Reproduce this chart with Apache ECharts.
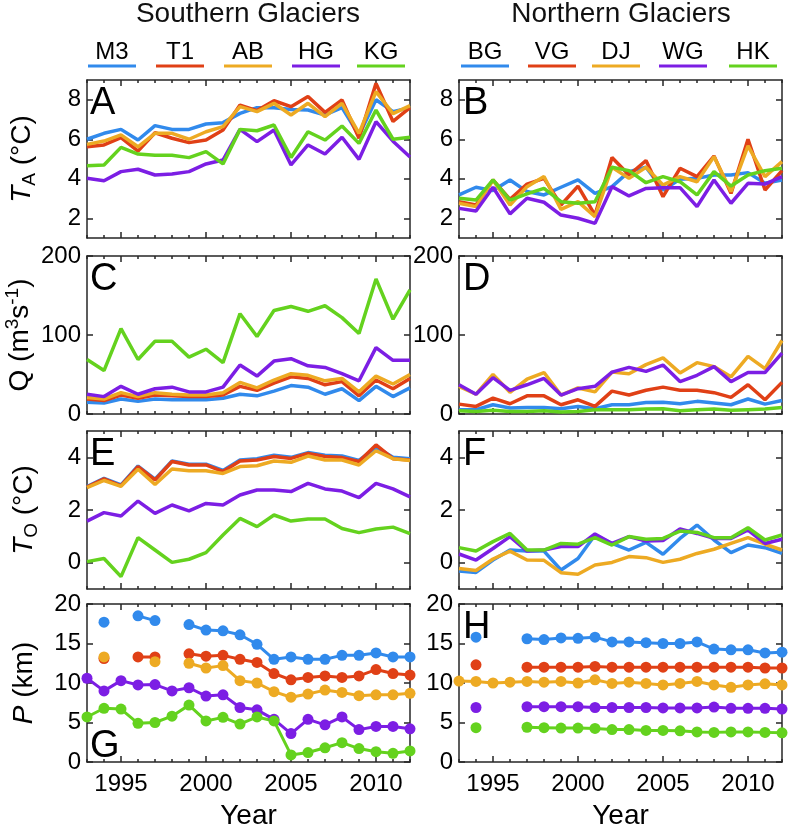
<!DOCTYPE html>
<html>
<head>
<meta charset="utf-8">
<script src="https://cdn.jsdelivr.net/npm/echarts@6/dist/echarts.min.js"></script>
<style>
html, body { margin: 0; padding: 0; background: #fff; }
#chart { width: 789px; height: 831px; }
</style>
</head>
<body>
<div id="chart"></div>
<script>
// years and tick labels
var years = [1993,1994,1995,1996,1997,1998,1999,2000,2001,2002,2003,2004,2005,2006,2007,2008,2009,2010,2011,2012];
var majorYears = [1995, 2000, 2005, 2010];
var southNames = ['M3', 'T1', 'AB', 'HG', 'KG'];
var northNames = ['BG', 'VG', 'DJ', 'WG', 'HK'];

// A: air temperature, southern glaciers
var taM3 = [6.0,6.3,6.5,5.96,6.69,6.5,6.5,6.77,6.84,7.31,7.6,7.6,7.51,7.48,7.23,7.6,6.2,8.0,7.4,7.6];
var taT1 = [5.62,5.71,6.08,5.4,6.33,6.05,5.83,5.96,6.47,7.73,7.45,7.95,7.65,8.16,7.36,7.99,6.05,8.83,6.9,7.6];
var taAB = [5.74,5.91,6.22,5.62,6.3,6.3,6.0,6.38,6.64,7.65,7.4,7.82,7.23,7.82,7.14,7.82,6.3,8.41,7.3,7.7];
var taHG = [4.02,3.9,4.36,4.48,4.19,4.24,4.36,4.75,4.95,6.5,5.88,6.47,4.7,5.71,5.25,6.1,4.98,6.89,5.9,5.1];
var taKG = [4.66,4.7,5.59,5.25,5.19,5.19,5.07,5.37,4.75,6.5,6.43,6.72,5.08,6.38,5.96,6.67,5.79,7.48,6.0,6.1];
// B: air temperature, northern glaciers
var taBG = [3.18,3.57,3.4,3.94,3.35,3.18,3.57,3.94,3.26,3.6,4.36,4.58,3.43,3.97,4.02,4.19,4.19,4.31,3.77,3.94];
var taVG = [2.84,2.67,3.94,2.96,3.73,4.02,2.67,3.63,2.16,5.08,4.19,4.92,3.09,4.53,4.11,5.15,3.26,6.0,3.43,4.41];
var taDJ = [2.76,2.59,3.94,2.67,3.6,4.11,2.45,2.84,2.08,4.58,4.02,4.58,3.68,4.11,3.85,5.12,3.35,5.66,4.11,4.87];
var taWG = [2.5,2.37,3.57,2.22,3.01,2.81,2.16,2.0,1.74,3.6,3.13,3.51,3.55,3.55,2.59,3.94,2.76,3.77,3.73,4.11];
var taHK = [3.01,2.92,3.94,2.92,3.23,3.51,2.84,2.76,2.84,4.58,4.41,3.8,4.11,3.85,3.18,4.36,3.63,4.19,4.41,4.53];
// C: discharge, southern
var qM3 = [15,14,19,16,19,18,18,18,20,25,23,29,36,34,25,32,17,35,22,33];
var qT1 = [19,17,24,20,24,23,22,22,24,35,30,39,47,45,37,41,23,43,32,45];
var qAB = [21,19,27,22,27,25,24,24,27,40,33,43,51,49,42,45,28,48,38,50];
var qHG = [25,22,35,25,32,34,28,28,34,62,48,67,70,61,59,51,42,84,68,68];
var qKG = [69,55,108,69,92,92,72,82,65,127,98,131,136,130,137,122,102,171,120,157];
// D: discharge, northern
var qBG = [5.4,5.4,11.7,7.5,8.3,8.3,6.7,9.6,6.7,11.7,11.7,14.6,15,13,16,14,11.7,19,12.5,17];
var qVG = [12.5,9.6,20,13,23,23,11.7,18,9.6,29,24,30,34,30,30,27,21,37,18,40];
var qDJ = [35,25,50,27.5,44,52.5,24,33,28,53,51,62.5,71,52,65,60,47,73,57.5,93];
var qWG = [37,25,46,30,37,45,24,32,35,53,59,54,62,41,49,60,41,52.5,52.5,77];
var qHK = [4,3.3,4.6,3.3,3.3,4,2.5,3.3,5.4,5.4,5.4,6.2,6.7,4,5.4,6.2,4.6,5.4,6.2,8.3];
// E: ocean temperature, southern
var toM3 = [2.89,3.2,2.95,3.67,3.17,3.86,3.74,3.74,3.5,3.9,3.95,4.08,4.0,4.18,4.08,4.05,3.88,4.38,4.0,3.95];
var toT1 = [2.87,3.18,2.92,3.65,3.14,3.84,3.71,3.71,3.46,3.86,3.9,4.03,3.96,4.15,4.03,3.99,3.84,4.47,3.95,3.9];
var toAB = [2.85,3.12,2.9,3.55,2.97,3.56,3.49,3.49,3.39,3.65,3.68,3.86,3.81,4.05,3.9,3.9,3.71,4.25,3.95,3.88];
var toHG = [1.58,1.9,1.77,2.34,1.87,2.19,1.97,2.25,2.19,2.57,2.76,2.76,2.7,3.01,2.8,2.72,2.47,3.01,2.8,2.5];
var toKG = [0.04,0.16,-0.53,0.95,0.48,0.01,0.13,0.38,1.05,1.68,1.37,1.81,1.58,1.66,1.66,1.3,1.14,1.28,1.35,1.1];
// F: ocean temperature, northern (no VG)
var toBG = [-0.32,-0.37,0.1,0.48,0.44,0.44,-0.28,0.16,1.05,0.73,0.48,0.77,0.32,0.92,1.43,0.86,0.38,0.67,0.57,0.35];
var toDJ = [-0.22,-0.3,0.14,0.44,0.1,0.09,-0.38,-0.44,-0.09,0.01,0.23,0.19,0.01,0.13,0.35,0.51,0.73,0.95,0.7,0.48];
var toWG = [0.33,0.1,0.54,0.99,0.44,0.48,0.61,0.61,1.09,0.73,0.99,0.82,0.84,1.28,1.11,0.92,0.92,1.24,0.73,0.89];
var toHK = [0.57,0.44,0.8,1.11,0.48,0.48,0.73,0.7,0.95,0.67,0.99,0.89,0.92,1.2,1.15,0.95,0.95,1.33,0.86,1.05];
// G: terminus position, southern
var pM3 = [null,17.7,null,18.5,17.9,null,17.4,16.7,16.6,16.1,14.9,13.0,13.3,13.0,13.0,13.5,13.5,13.8,13.3,13.3];
var pT1 = [null,13.1,null,13.3,13.3,null,13.7,13.4,13.5,13.0,12.6,11.2,10.4,10.7,10.9,10.7,10.9,11.7,11.2,11.0];
var pAB = [null,13.3,null,null,12.7,null,12.5,11.9,12.2,10.3,10.0,8.9,8.2,8.6,9.1,8.8,8.4,8.5,8.5,8.7];
var pHG = [10.6,9.0,10.3,9.75,9.8,9.0,9.4,8.35,8.5,6.9,6.6,5.4,3.6,5.4,4.7,5.7,4.1,4.5,4.5,4.2];
var pKG = [5.7,6.8,6.7,4.9,5.0,5.8,7.2,5.2,5.65,4.8,5.7,5.2,0.9,1.2,1.8,2.45,1.7,1.3,1.1,1.4];
// H: terminus position, northern
var pBG = [null,15.8,null,null,15.6,15.5,15.7,15.65,15.8,15.2,15.2,15.1,15.0,15.0,15.2,14.3,14.2,14.2,13.8,13.9];
var pVG = [null,12.3,null,null,12.0,12.0,12.0,12.0,12.1,12.0,12.0,12.0,12.0,12.0,12.0,12.0,12.0,12.0,11.9,11.9];
var pDJ = [10.25,10.2,10.0,10.1,10.2,10.1,10.2,10.0,10.4,9.95,10.1,9.95,9.75,9.95,10.2,9.75,9.45,9.75,9.9,9.75];
var pWG = [null,6.9,null,null,7.0,7.0,7.0,7.0,6.9,6.9,6.9,6.9,6.85,6.85,6.85,6.95,6.8,6.8,6.8,6.7];
var pHK = [null,4.35,null,null,4.4,4.35,4.3,4.3,4.25,4.1,4.1,4.0,4.0,3.95,3.8,3.75,3.8,3.8,3.75,3.7];

var colors = ['#318AEC', '#E04016', '#EDAA23', '#7C1EE4', '#64D21E'];
var font = 'Liberation Sans, Arial, Helvetica, sans-serif';
var axisColor = '#262626';

// panel layout: [series arrays, color index per series]
var panels = [
  {letter: 'A', data: [taM3, taT1, taAB, taHG, taKG], col: [0,1,2,3,4], min: 1, max: 9, ticks: [2,4,6,8]},
  {letter: 'B', data: [taBG, taVG, taDJ, taWG, taHK], col: [0,1,2,3,4], min: 1, max: 9, ticks: [2,4,6,8]},
  {letter: 'C', data: [qM3, qT1, qAB, qHG, qKG], col: [0,1,2,3,4], min: 0, max: 200, ticks: [0,100,200]},
  {letter: 'D', data: [qBG, qVG, qDJ, qWG, qHK], col: [0,1,2,3,4], min: 0, max: 200, ticks: [0,100,200]},
  {letter: 'E', data: [toM3, toT1, toAB, toHG, toKG], col: [0,1,2,3,4], min: -1, max: 5, ticks: [0,2,4]},
  {letter: 'F', data: [toBG, toDJ, toWG, toHK], col: [0,2,3,4], min: -1, max: 5, ticks: [0,2,4]},
  {letter: 'G', data: [pM3, pT1, pAB, pHG, pKG], col: [0,1,2,3,4], min: 0, max: 20, ticks: [0,5,10,15,20]},
  {letter: 'H', data: [pBG, pVG, pDJ, pWG, pHK], col: [0,1,2,3,4], min: 0, max: 20, ticks: [0,5,10,15,20]}
];

var yNames = [
  '{it|T}{sub|A} (°C)',
  'Q (m{sup|3}s{sup|-1})',
  '{it|T}{sub|O} (°C)',
  '{it|P} (km)'
];
var yNameGaps = [48, 50, 46, 46];

var gridLefts = [87, 459];
var gridTops = [80, 256, 431, 604];
var gridW = 323, gridH = 158;

var grids = [], xAxes = [], yAxes = [], series = [], graphics = [];
var lineStyleAx = {color: axisColor, width: 1.5};
var plain = function (v) { return String(v); };

panels.forEach(function (pn, p) {
  var row = Math.floor(p / 2), c = p % 2;
  grids.push({left: gridLefts[c], top: gridTops[row], width: gridW, height: gridH});
  var base = {gridIndex: p, type: 'value', min: 1993, max: 2012, splitLine: {show: false}};
  // bottom axis with labels and yearly ticks
  xAxes.push(Object.assign({}, base, {
    position: 'bottom',
    axisLine: {show: true, onZero: false, lineStyle: lineStyleAx},
    axisTick: {show: true, inside: true, length: 3, customValues: years, lineStyle: lineStyleAx},
    axisLabel: {show: row === 3, customValues: majorYears, formatter: plain, fontSize: 24, color: '#000', fontFamily: font, margin: 10},
    name: row === 3 ? 'Year' : '',
    nameLocation: 'middle',
    nameGap: 40,
    nameTextStyle: {fontSize: 28, color: '#000', fontFamily: font}
  }));
  // bottom major ticks
  xAxes.push(Object.assign({}, base, {
    position: 'bottom',
    axisLine: {show: false, onZero: false},
    axisTick: {show: true, inside: true, length: 6, customValues: majorYears, lineStyle: lineStyleAx},
    axisLabel: {show: false}
  }));
  // top
  xAxes.push(Object.assign({}, base, {
    position: 'top',
    axisLine: {show: true, onZero: false, lineStyle: lineStyleAx},
    axisTick: {show: true, inside: true, length: 3, customValues: years, lineStyle: lineStyleAx},
    axisLabel: {show: false}
  }));
  xAxes.push(Object.assign({}, base, {
    position: 'top',
    axisLine: {show: false, onZero: false},
    axisTick: {show: true, inside: true, length: 6, customValues: majorYears, lineStyle: lineStyleAx},
    axisLabel: {show: false}
  }));

  var ybase = {gridIndex: p, type: 'value', min: pn.min, max: pn.max, splitLine: {show: false}};
  yAxes.push(Object.assign({}, ybase, {
    position: 'left',
    axisLine: {show: true, onZero: false, lineStyle: lineStyleAx},
    axisTick: {show: true, inside: true, length: 6, customValues: pn.ticks, lineStyle: lineStyleAx},
    axisLabel: {customValues: pn.ticks, formatter: plain, fontSize: 24, color: '#000', fontFamily: font, margin: 6},
    name: c === 0 ? yNames[row] : '',
    nameLocation: 'middle',
    nameRotate: 90,
    nameGap: yNameGaps[row],
    nameTextStyle: {
      fontSize: 28, color: '#000', fontFamily: font, lineHeight: 34,
      rich: {
        it: {fontStyle: 'italic', fontSize: 28, fontFamily: font, lineHeight: 34},
        sub: {fontSize: 19, fontFamily: font, verticalAlign: 'bottom', lineHeight: 20},
        sup: {fontSize: 19, fontFamily: font, verticalAlign: 'top', lineHeight: 20}
      }
    }
  }));
  yAxes.push(Object.assign({}, ybase, {
    position: 'right',
    axisLine: {show: true, onZero: false, lineStyle: lineStyleAx},
    axisTick: {show: true, inside: true, length: 6, customValues: pn.ticks, lineStyle: lineStyleAx},
    axisLabel: {show: false}
  }));

  pn.data.forEach(function (arr, k) {
    var color = colors[pn.col[k]];
    series.push({
      type: 'line',
      xAxisIndex: p * 4,
      yAxisIndex: p * 2,
      data: years.map(function (y, i) { return [y, arr[i] == null ? '-' : arr[i]]; }),
      showSymbol: row === 3,
      symbol: 'circle',
      symbolSize: 11,
      connectNulls: false,
      lineStyle: {color: color, width: row === 3 ? 3 : 3.5},
      itemStyle: {color: color},
      emphasis: {disabled: true},
      silent: true
    });
  });

  // panel letter
  var lx = gridLefts[c] + (c === 0 ? 3 : 4);
  var ly = row === 3 && c === 0 ? gridTops[row] + 124 : gridTops[row] + 5;
  graphics.push({
    type: 'text', x: lx, y: ly,
    style: {text: pn.letter, fontSize: 38, fontFamily: font, fill: '#000', verticalAlign: 'top'}
  });
});

// titles and legends
graphics.push({type: 'text', x: 248, y: 0, style: {text: 'Southern Glaciers', fontSize: 28, fontFamily: font, fill: '#111', align: 'center', verticalAlign: 'top'}});
graphics.push({type: 'text', x: 621, y: 0, style: {text: 'Northern Glaciers', fontSize: 28, fontFamily: font, fill: '#111', align: 'center', verticalAlign: 'top'}});
var legendX = [[112, 180, 248, 316, 381], [485, 552, 616, 683, 753]];
[southNames, northNames].forEach(function (names, c) {
  names.forEach(function (nm, k) {
    var cx = legendX[c][k];
    graphics.push({type: 'text', x: cx, y: 52, style: {text: nm, fontSize: 24, fontFamily: font, fill: '#000', align: 'center', verticalAlign: 'middle'}});
    graphics.push({type: 'line', shape: {x1: cx - 24, y1: 66, x2: cx + 24, y2: 66}, style: {stroke: colors[k], lineWidth: 3}});
  });
});

var chart = echarts.init(document.getElementById('chart'), null, {renderer: 'canvas'});
chart.setOption({
  animation: false,
  backgroundColor: '#fff',
  grid: grids,
  xAxis: xAxes,
  yAxis: yAxes,
  series: series,
  graphic: graphics
});
</script>
</body>
</html>
